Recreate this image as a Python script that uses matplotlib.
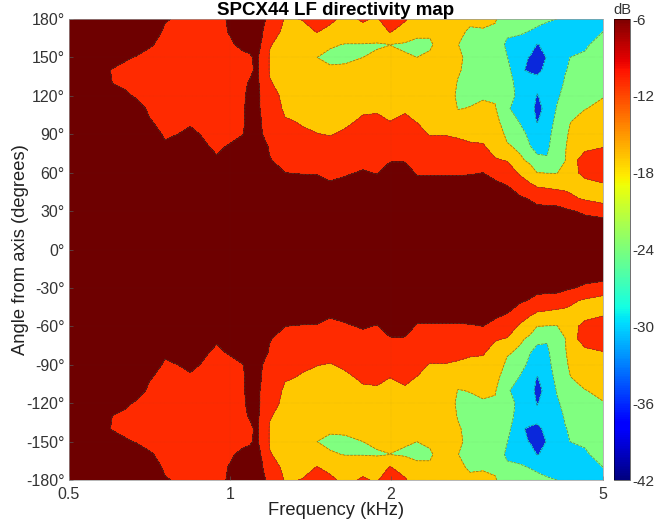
import matplotlib
matplotlib.use("Agg")
import matplotlib.pyplot as plt
from matplotlib.colors import ListedColormap, BoundaryNorm
from matplotlib.cm import ScalarMappable
import numpy as np

plt.rcParams['font.family'] = ['Liberation Sans', 'DejaVu Sans']
plt.rcParams['axes.unicode_minus'] = False

freq_khz = [0.5, 0.605, 0.636, 0.67, 0.709, 0.756, 0.843, 0.946, 1.059, 1.091, 1.12, 1.149, 1.189, 1.269,
            1.366, 1.457, 1.541, 1.644, 1.776, 1.887, 1.996, 2.129, 2.242, 2.371, 2.529, 2.675,
            2.818, 2.98, 3.139, 3.305, 3.495, 3.649, 3.762, 3.928, 4.101, 4.244, 4.337, 4.627, 5.0]
angles_up = list(range(0, 190, 10))

# one list per frequency, dB at 0, 10, ... 180 degrees
db_columns = [
    [-8, -8, -8, -8, -8, -8, -8, -8, -8, -8, -8, -8, -8, -8, -8, -8, -8, -8, -8],
    [-8, -8, -8, -8, -8, -8, -8, -8, -8, -8, -8, -8, -10, -12.1, -12.3, -10.5, -9, -8, -8],
    [-8, -8, -8, -8, -8, -8, -8, -8, -8, -8, -8, -9, -11, -13, -13, -11.5, -9.5, -8.5, -8],
    [-8, -8, -8, -8, -8, -8, -8, -8, -8, -8, -9, -10, -12.7, -14, -14, -12.3, -10, -9, -8],
    [-8, -8, -8, -8, -8, -8, -8, -8, -8, -9, -11.7, -13, -13.5, -14, -14, -13.5, -11.5, -9.5, -8.5],
    [-8, -8, -8, -8, -8, -8, -8, -9, -11, -12.8, -13.5, -14, -14, -14, -14, -14, -13.5, -12.7, -11.6],
    [-8, -8, -8, -8, -8, -8, -8, -9, -10, -11.2, -12.5, -14, -14, -14, -14, -14, -14, -14, -13.5],
    [-8, -8, -8, -8, -8, -8, -9, -11.5, -12.8, -13.5, -14, -14, -14, -14, -14, -14, -14, -14, -14],
    [-8, -8, -8, -8, -8, -8, -8, -9, -10, -12.1, -13, -13, -13, -13, -13, -13, -11, -9, -8],
    [-8, -8, -8, -8, -8, -8, -8, -8, -8, -9, -9, -9, -10, -11.5, -13, -12.6, -10.5, -9, -8],
    [-8, -8, -8, -8, -8, -8, -8, -8, -8, -9, -9, -10, -10, -11, -11.2, -11.2, -10.5, -10, -9],
    [-8, -8, -8, -8, -8, -8, -8, -9, -10, -11.8, -12.3, -13, -13, -13, -13.2, -13.2, -12.4, -11.6, -10],
    [-8, -8, -8, -8, -8, -8, -9, -11.8, -12.6, -15, -15, -15, -15, -17.6, -18.6, -18.6, -17.7, -16, -14.5],
    [-8, -8, -8, -8, -8, -10, -12, -13.5, -15, -16.5, -17.6, -18.8, -20, -20, -20, -20, -20, -19, -18.3],
    [-8, -8, -8, -8, -8, -10.5, -12.2, -14, -16, -17.5, -18.3, -19.5, -20, -20.5, -21, -21, -20, -19, -17.9],
    [-8, -8, -8, -8, -8, -10.5, -12.3, -14, -16, -17.9, -19, -20, -21, -21.5, -21.5, -24, -21.5, -17.9, -16.5],
    [-8, -8, -8, -8, -8, -11.6, -12.8, -14.5, -16.5, -18.2, -19.5, -20.5, -21.5, -22, -23.3, -25, -23.5, -19, -17.2],
    [-8, -8, -8, -8, -8, -11, -12.4, -14, -15.5, -17.5, -18.6, -19.5, -20.5, -21.5, -23, -25, -24.2, -21, -19],
    [-8, -8, -8, -8, -8, -10, -11.7, -13, -15, -16.5, -17.5, -18.5, -20, -21, -22, -24, -24.3, -19.5, -17.5],
    [-8, -8, -8, -8, -8, -10.5, -12.2, -13.5, -15, -16.5, -17.5, -18.3, -19.5, -20.5, -22, -23, -24.6, -20, -18.5],
    [-8, -8, -8, -8, -8, -9, -10.5, -12.3, -14.5, -16, -18, -19, -20, -21, -22, -23, -24.05, -17.8, -15],
    [-8, -8, -8, -8, -8, -9, -10.5, -12.3, -14, -16, -17.5, -18.3, -19.5, -21, -22, -23.5, -24.7, -20, -17.5],
    [-8, -8, -8, -8, -8, -10.5, -12.4, -13.5, -15, -17, -18.1, -19, -20, -21, -22.5, -24, -25, -23, -20.5],
    [-8, -8, -8, -8, -8, -10.7, -12.4, -14, -16.5, -18.2, -19, -20, -21, -22, -23, -23.4, -24.5, -23.5, -21],
    [-8, -8, -8, -8, -8, -10.7, -12.4, -14, -16, -18.2, -19, -20, -20.5, -21, -21.5, -22, -22, -21.5, -21],
    [-8, -8, -8, -8, -9, -11, -12.3, -14, -16.5, -18.7, -21, -24.2, -25, -24.3, -23.5, -23, -23.9, -22.5, -21],
    [-8, -8, -8, -8, -9, -11, -12.2, -14, -17.5, -18.8, -20.5, -23.8, -25, -25.5, -25.5, -25.5, -26, -25, -22.5],
    [-8, -8, -8, -8, -9, -10.8, -12, -14.5, -17.6, -19, -21, -23, -24.5, -26, -26, -26, -26, -24.6, -22.5],
    [-8, -8, -8, -8, -9.5, -11.3, -13, -17.7, -19.4, -21, -22, -23.5, -24.8, -26, -26, -26, -26.5, -25, -23.5],
    [-8, -8, -8, -9, -10, -12, -15.5, -18.3, -23.4, -25, -27.5, -29.7, -28.5, -28, -28, -29.8, -31, -29, -27],
    [-8, -8, -8.5, -9, -11.2, -15.5, -18.7, -23.3, -24.8, -28.5, -30.3, -31, -31, -32, -35.3, -34.5, -31.5, -29.5, -27.5],
    [-8, -8, -8.5, -9.5, -12.5, -17, -22, -25, -29.8, -31, -33, -34.5, -33, -33, -36.8, -36.3, -33.5, -30.2, -28],
    [-8, -8, -8.5, -10, -14, -18.6, -24, -29.2, -31, -33, -36.3, -37, -36.3, -34.5, -36.9, -37.5, -36.2, -31, -28.5],
    [-8, -8, -8.5, -10, -14.5, -19, -24.2, -29.5, -31, -32, -33.5, -35, -34, -34, -35, -35.8, -35.2, -31.5, -29.5],
    [-8, -8, -8.5, -10, -15, -19.5, -24.3, -25.5, -26.5, -27, -28, -29.5, -31, -32, -33, -33, -33, -32, -30],
    [-8, -8, -8.5, -11, -16, -19.5, -21, -24.4, -25, -25.5, -26, -27, -28, -29.5, -30.3, -32, -33, -32.5, -31],
    [-8, -8, -8.5, -11.5, -17, -19.5, -19.5, -19.5, -20.5, -23, -24.3, -25, -26, -28, -29.5, -30, -33, -32.5, -32],
    [-8, -8, -9.8, -13, -18.8, -19.5, -16.8, -16.5, -18.8, -20, -21, -24.2, -25.5, -27, -28.5, -29.5, -30.5, -30.5, -33],
    [-8, -8, -8.5, -15.8, -19.5, -18.5, -16, -15.5, -18.1, -20, -21, -22.5, -24.3, -25, -26, -27, -28.5, -30, -31],
]

levels = [-42, -36, -30, -24, -18, -12, -6]
band_colors = ['#0a28dc', '#00d0ff', '#80ff80', '#ffc800', '#ff2a00', '#6e0000']
x_ticks = [0.5, 1, 2, 5]
y_ticks = list(range(-180, 181, 30))
cbar_ticks = [-42, -36, -30, -24, -18, -12, -6]

# the map is symmetric about the axis
upper = np.array(db_columns).T
db = np.vstack([upper[:0:-1], upper])
angles = [-a for a in angles_up[:0:-1]] + angles_up

fig = plt.figure(figsize=(6.56, 5.26), dpi=100)
ax = fig.add_axes([69/656, 46/526, 534/656, 461/526])
cmap = ListedColormap(band_colors)
norm = BoundaryNorm(levels, cmap.N)
ax.contourf(freq_khz, angles, db, levels=levels, cmap=cmap, norm=norm)
ax.contour(freq_khz, angles, db, levels=levels[1:-1], colors='#40503a', linewidths=0.5, alpha=0.7)
ax.set_xscale('log')
ax.set_xlim(0.5, 5)
ax.set_ylim(-180, 180)
ax.set_xticks(x_ticks)
ax.set_xticklabels(['0.5', '1', '2', '5'])
ax.minorticks_off()
ax.set_yticks(y_ticks)
ax.set_yticklabels([str(t) + '°' for t in y_ticks])
ax.tick_params(direction='in', length=3, width=0.5, color='#555555', labelsize=11.5, labelcolor='#333333', pad=3)
ax.tick_params(axis='x', pad=5)
ax.grid(True, color='#555555', lw=0.3, alpha=0.25, ls=':')
for s in ax.spines.values():
    s.set_linewidth(0.5)
    s.set_color('#999999')
ax.set_xlabel('Frequency (kHz)', fontsize=13.2, color='#222222', labelpad=0)
ax.set_ylabel('Angle from axis (degrees)', fontsize=13.2, color='#222222', labelpad=-2)
ax.set_title('SPCX44 LF directivity map', fontsize=13.5, fontweight='bold', pad=2.5)

cax = fig.add_axes([614/656, 46/526, 16/656, 461/526])
sm = ScalarMappable(cmap='jet', norm=plt.Normalize(-42, -6))
cb = fig.colorbar(sm, cax=cax, ticks=cbar_ticks)
cb.ax.set_yticklabels([str(t) for t in cbar_ticks])
cb.ax.tick_params(length=0, labelsize=11, labelcolor='#333333', pad=2)
cb.outline.set_linewidth(0.4)
cax.text(0.5, 1.005, 'dB', transform=cax.transAxes, ha='center', va='bottom', fontsize=10.5, color='#333333')

fig.savefig('out.png', dpi=100)
